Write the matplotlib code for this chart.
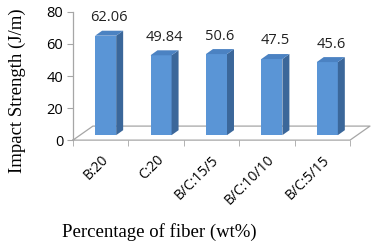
import numpy as np
import matplotlib.pyplot as plt
from matplotlib.ticker import FixedLocator

categories = ["B:20", "C:20", "B/C:15/5", "B/C:10/10", "B/C:5/15"]
values = [62.06, 49.84, 50.6, 47.5, 45.6]
value_labels = ["62.06", "49.84", "50.6", "47.5", "45.6"]

# fake 3D geometry (data units)
floor_dx, floor_dy = 0.36, 8.75
off_x, off_y = 0.09, 3.1      # bar front face offset into the depth
bar_dx, bar_dy = 0.126, 3.1   # bar depth
width = 0.38

front = "#5a95d6"
side = "#3b679a"
top = "#4b82c2"
grey = "#a6a6a6"

fig = plt.figure(figsize=(3.76, 2.48), dpi=100)
ax = fig.add_axes([0.194, 0.435, 0.790, 0.517])

x = np.arange(len(categories))

# floor
fx = [-0.5, 4.5, 4.5 + floor_dx, -0.5 + floor_dx, -0.5]
fy = [0, 0, floor_dy, floor_dy, 0]
ax.plot(fx, fy, color=grey, lw=0.9, zorder=1, clip_on=False)

for xi, v, lab in zip(x, values, value_labels):
    left = xi - width / 2 + off_x
    right = xi + width / 2 + off_x
    bot = off_y
    tp = v + off_y
    ax.bar(left + width / 2, v, width=width, bottom=bot, color=front, zorder=3)
    ax.fill([right, right + bar_dx, right + bar_dx, right],
            [bot, bot + bar_dy, tp + bar_dy, tp], color=side, zorder=3, lw=0)
    ax.fill([left, right, right + bar_dx, left + bar_dx],
            [tp, tp, tp + bar_dy, tp + bar_dy], color=top, zorder=3, lw=0)
    ax.annotate(lab, (xi + off_x + bar_dx / 2, tp + bar_dy), xytext=(0, 4),
                textcoords="offset points", ha="center", va="bottom",
                fontsize=10.5, family="Open Sans", color="#222222")

ax.set_xlim(-0.5, 4.5 + floor_dx)
ax.set_ylim(0, 80)
ax.set_yticks([0, 20, 40, 60, 80])

ax.xaxis.set_major_locator(FixedLocator(x))
ax.xaxis.set_minor_locator(FixedLocator(np.arange(-0.5, 5, 1.0)))
ax.set_xticklabels(categories, rotation=45, ha="right", va="top",
                   rotation_mode="anchor", fontsize=10, family="Open Sans")
ax.tick_params(axis="x", which="major", length=0, pad=9)
ax.tick_params(axis="x", which="minor", length=4, color=grey, direction="out")
ax.tick_params(axis="y", length=4, color=grey, labelsize=10.5, pad=3)
for t in ax.get_yticklabels():
    t.set_family("Open Sans")

for s in ["top", "right", "bottom"]:
    ax.spines[s].set_visible(False)
ax.spines["left"].set_color(grey)
ax.spines["left"].set_linewidth(0.9)

fig.text(0.425, 0.065, "Percentage of fiber (wt%)", ha="center", va="center",
         fontsize=13.5, family="Liberation Serif")
fig.text(0.045, 0.633, "Impact Strength (J/m)", ha="center", va="center",
         rotation=90, fontsize=13.5, family="Liberation Serif")

fig.savefig("out.png", dpi=100)
